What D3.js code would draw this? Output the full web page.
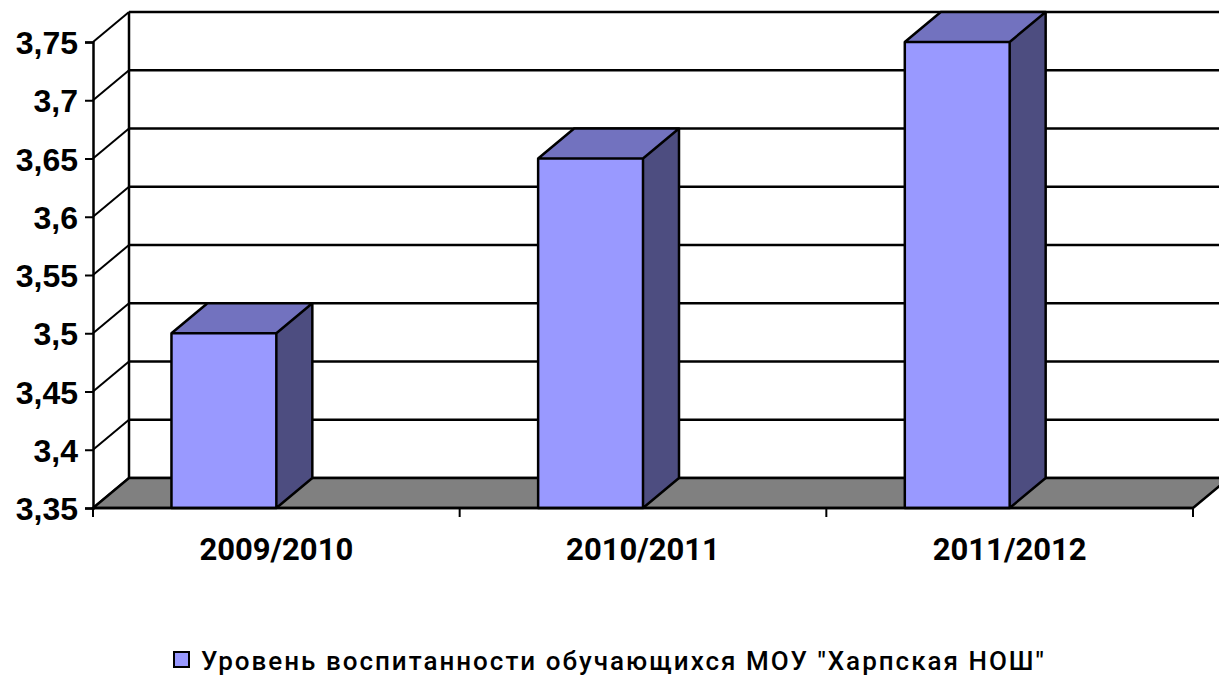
<!DOCTYPE html>
<html>
<head>
<meta charset="utf-8">
<script src="https://cdn.jsdelivr.net/npm/d3@7"></script>
<style>
  html, body { margin: 0; padding: 0; background: #fff; }
  svg { display: block; }
</style>
</head>
<body>
<svg id="chart" width="1219" height="678"></svg>
<script>
// Chart data
const categories = ["2009/2010", "2010/2011", "2011/2012"];
const values = [3.5, 3.65, 3.75];
const yTicks = [3.35, 3.4, 3.45, 3.5, 3.55, 3.6, 3.65, 3.7, 3.75];
const yTickLabels = ["3,35", "3,4", "3,45", "3,5", "3,55", "3,6", "3,65", "3,7", "3,75"];
const seriesName = "Уровень воспитанности обучающихся МОУ \"Харпская НОШ\"";

const svg = d3.select("#chart");

// Front plane scales; depth offset projects into the back plane
const x = d3.scaleBand().domain(categories).range([93, 1193]).padding(0);
const y = d3.scaleLinear().domain([3.35, 3.75]).range([508, 42]);
const depth = { dx: 36, dy: -30 };

const colors = {
  front: "#9999FF",
  top: "#7272BF",
  side: "#4D4D80",
  floor: "#808080",
  line: "#000"
};

// Back wall gridlines
svg.append("g").selectAll("line")
  .data(yTicks)
  .join("line")
  .attr("x1", x.range()[0] + depth.dx)
  .attr("x2", x.range()[1] + depth.dx)
  .attr("y1", d => y(d) + depth.dy)
  .attr("y2", d => y(d) + depth.dy)
  .attr("stroke", colors.line)
  .attr("stroke-width", 2.5);

// Left wall: diagonals from the front axis to the back wall
svg.append("g").selectAll("line")
  .data(yTicks)
  .join("line")
  .attr("x1", x.range()[0])
  .attr("y1", d => y(d))
  .attr("x2", x.range()[0] + depth.dx)
  .attr("y2", d => y(d) + depth.dy)
  .attr("stroke", colors.line)
  .attr("stroke-width", 2);

// Back wall left edge
svg.append("line")
  .attr("x1", x.range()[0] + depth.dx).attr("x2", x.range()[0] + depth.dx)
  .attr("y1", y(3.75) + depth.dy).attr("y2", y(3.35) + depth.dy)
  .attr("stroke", colors.line).attr("stroke-width", 2.5);

// Floor
const x0 = x.range()[0], x1 = x.range()[1], yf = y(3.35);
svg.append("path")
  .attr("d", `M${x0},${yf}L${x1},${yf}L${x1 + depth.dx},${yf + depth.dy}L${x0 + depth.dx},${yf + depth.dy}Z`)
  .attr("fill", colors.floor)
  .attr("stroke", colors.line)
  .attr("stroke-width", 2.5)
  .attr("stroke-linejoin", "round");

// Bars: front face ends at the category centre
const barW = x.bandwidth() * 0.286;
const bars = svg.append("g").selectAll("g")
  .data(categories.map((c, i) => ({ c, v: values[i] })))
  .join("g");

bars.each(function (d) {
  const g = d3.select(this);
  const r = x(d.c) + x.bandwidth() / 2;
  const l = r - barW;
  const t = y(d.v), b = y(3.35);
  const { dx, dy } = depth;
  // side
  g.append("path")
    .attr("d", `M${r},${t}L${r + dx},${t + dy}L${r + dx},${b + dy}L${r},${b}Z`)
    .attr("fill", colors.side);
  // top
  g.append("path")
    .attr("d", `M${l},${t}L${l + dx},${t + dy}L${r + dx},${t + dy}L${r},${t}Z`)
    .attr("fill", colors.top);
  // front
  g.append("rect")
    .attr("x", l).attr("y", t).attr("width", barW).attr("height", b - t)
    .attr("fill", colors.front);
  // outline
  g.append("path")
    .attr("d", `M${l},${b}L${l},${t}L${l + dx},${t + dy}L${r + dx},${t + dy}L${r + dx},${b + dy}L${r},${b}Z M${l},${t}L${r},${t}L${r + dx},${t + dy} M${r},${t}L${r},${b}`)
    .attr("fill", "none")
    .attr("stroke", colors.line)
    .attr("stroke-width", 2.5)
    .attr("stroke-linejoin", "round");
});

// Value axis
const yAxis = d3.axisLeft(y)
  .tickValues(yTicks)
  .tickFormat((d, i) => yTickLabels[i])
  .tickSize(8)
  .tickPadding(7);
const ya = svg.append("g").attr("transform", `translate(${x0},0)`).call(yAxis);
ya.select(".domain").attr("stroke", colors.line).attr("stroke-width", 2.5);
ya.selectAll(".tick line").attr("stroke", colors.line).attr("stroke-width", 2);
ya.selectAll(".tick text")
  .attr("font-family", "'Liberation Sans', Arial, sans-serif")
  .attr("font-weight", "bold")
  .attr("font-size", 32)
  .attr("fill", "#000")
  .attr("dy", "0.36em");

// Category axis
const xAxis = d3.axisBottom(x).tickSize(0).tickPadding(0);
const xa = svg.append("g").attr("transform", `translate(0,${yf})`).call(xAxis);
xa.select(".domain").remove();
xa.selectAll(".tick text").remove();
svg.append("line")
  .attr("x1", x0).attr("x2", x1).attr("y1", yf).attr("y2", yf)
  .attr("stroke", colors.line).attr("stroke-width", 2.5);
svg.append("g").selectAll("line")
  .data([x0, ...categories.map(c => x(c) + x.bandwidth())])
  .join("line")
  .attr("x1", d => d).attr("x2", d => d)
  .attr("y1", yf).attr("y2", yf + 9)
  .attr("stroke", colors.line).attr("stroke-width", 2);
svg.append("g").selectAll("text")
  .data(categories)
  .join("text")
  .attr("x", d => x(d) + x.bandwidth() / 2)
  .attr("y", 560)
  .attr("text-anchor", "middle")
  .attr("font-family", "Roboto, sans-serif")
  .attr("font-weight", "bold")
  .attr("font-size", 31)
  .attr("fill", "#000")
  .text(d => d);

// Legend
const legend = svg.append("g");
legend.append("rect")
  .attr("x", 174).attr("y", 652).attr("width", 15).attr("height", 15)
  .attr("fill", colors.front)
  .attr("stroke", colors.line)
  .attr("stroke-width", 2);
legend.append("text")
  .attr("x", 201).attr("y", 670)
  .attr("font-family", "Roboto, sans-serif")
  .attr("font-weight", 500)
  .attr("font-size", 26)
  .attr("letter-spacing", 2.0)
  .attr("fill", "#000")
  .text(seriesName);
</script>
</body>
</html>
